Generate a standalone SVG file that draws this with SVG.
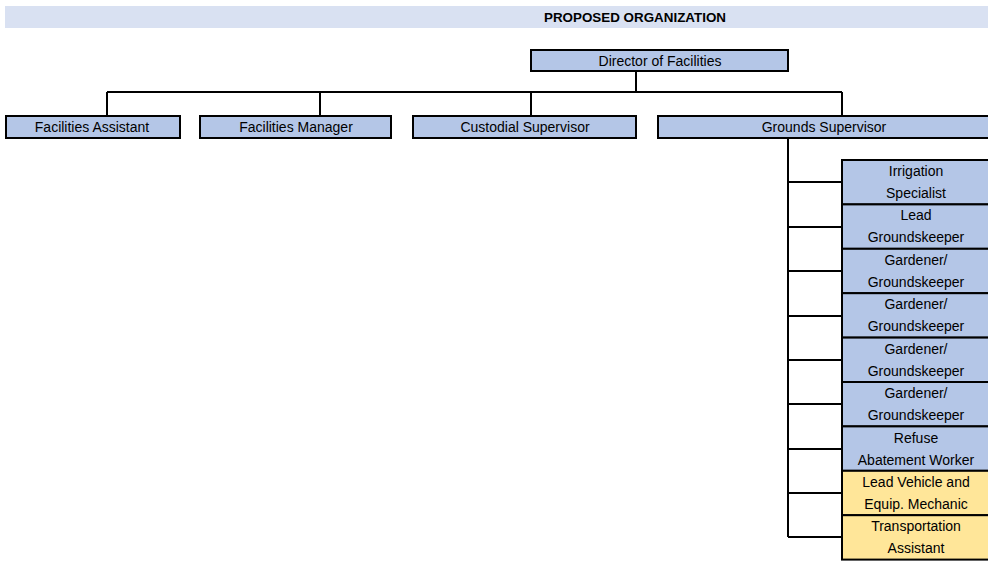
<svg xmlns="http://www.w3.org/2000/svg" width="988" height="563" viewBox="0 0 988 563">
<style>
.box{fill:#B4C6E7;stroke:#000;stroke-width:2}
.ybox{fill:#FFE699;stroke:#000;stroke-width:2}
.t{font-family:"Liberation Sans",Arial,sans-serif;font-size:14px;fill:#000;text-anchor:middle}
.title{font-family:"Liberation Sans",Arial,sans-serif;font-size:13.4px;font-weight:bold;fill:#000;text-anchor:middle}
.ln{stroke:#000;stroke-width:2;fill:none}
</style>
<rect x="5" y="6" width="983" height="22" fill="#D9E1F2"/>
<text class="title" x="635" y="22">PROPOSED ORGANIZATION</text>
<g id="connectors">
<path class="ln" d="M636 71V92M107 92H842M107 92V116M320 92V116M531 92V116M842 92V116"/>
<path class="ln" d="M788 138V537"/>
<path class="ln" d="M788 182H842M788 227H842M788 271H842M788 316H842M788 360H842M788 404H842M788 449H842M788 493H842M788 537H842"/>
</g>
<g id="director"><rect class="box" x="531" y="50" width="257" height="21"/><text class="t" x="660" y="66">Director of Facilities</text></g>
<g id="facilities-assistant"><rect class="box" x="6" y="116" width="174" height="22"/><text class="t" x="92" y="132">Facilities Assistant</text></g>
<g id="facilities-manager"><rect class="box" x="200" y="116" width="191" height="22"/><text class="t" x="296" y="132">Facilities Manager</text></g>
<g id="custodial-supervisor"><rect class="box" x="413" y="116" width="223" height="22"/><text class="t" x="525" y="132">Custodial Supervisor</text></g>
<g id="grounds-supervisor"><rect class="box" x="658" y="116" width="340" height="22"/><text class="t" x="824" y="132">Grounds Supervisor</text></g>
<g id="irrigation-specialist"><rect class="box" x="842" y="160" width="160" height="44.4"/><text class="t" x="916" y="176">Irrigation</text><text class="t" x="916" y="198">Specialist</text></g>
<g id="lead-groundskeeper"><rect class="box" x="842" y="204.4" width="160" height="44.4"/><text class="t" x="916" y="220">Lead</text><text class="t" x="916" y="242">Groundskeeper</text></g>
<g id="gardener-1"><rect class="box" x="842" y="248.8" width="160" height="44.4"/><text class="t" x="916" y="265">Gardener/</text><text class="t" x="916" y="287">Groundskeeper</text></g>
<g id="gardener-2"><rect class="box" x="842" y="293.2" width="160" height="44.4"/><text class="t" x="916" y="309">Gardener/</text><text class="t" x="916" y="331">Groundskeeper</text></g>
<g id="gardener-3"><rect class="box" x="842" y="337.6" width="160" height="44.4"/><text class="t" x="916" y="354">Gardener/</text><text class="t" x="916" y="376">Groundskeeper</text></g>
<g id="gardener-4"><rect class="box" x="842" y="382" width="160" height="44.4"/><text class="t" x="916" y="398">Gardener/</text><text class="t" x="916" y="420">Groundskeeper</text></g>
<g id="refuse-worker"><rect class="box" x="842" y="426.4" width="160" height="44.4"/><text class="t" x="916" y="443">Refuse</text><text class="t" x="916" y="465">Abatement Worker</text></g>
<g id="lead-mechanic"><rect class="ybox" x="842" y="470.8" width="160" height="44.4"/><text class="t" x="916" y="487">Lead Vehicle and</text><text class="t" x="916" y="509">Equip. Mechanic</text></g>
<g id="transportation-assistant"><rect class="ybox" x="842" y="515.2" width="160" height="44.4"/><text class="t" x="916" y="531">Transportation</text><text class="t" x="916" y="553">Assistant</text></g>
</svg>
